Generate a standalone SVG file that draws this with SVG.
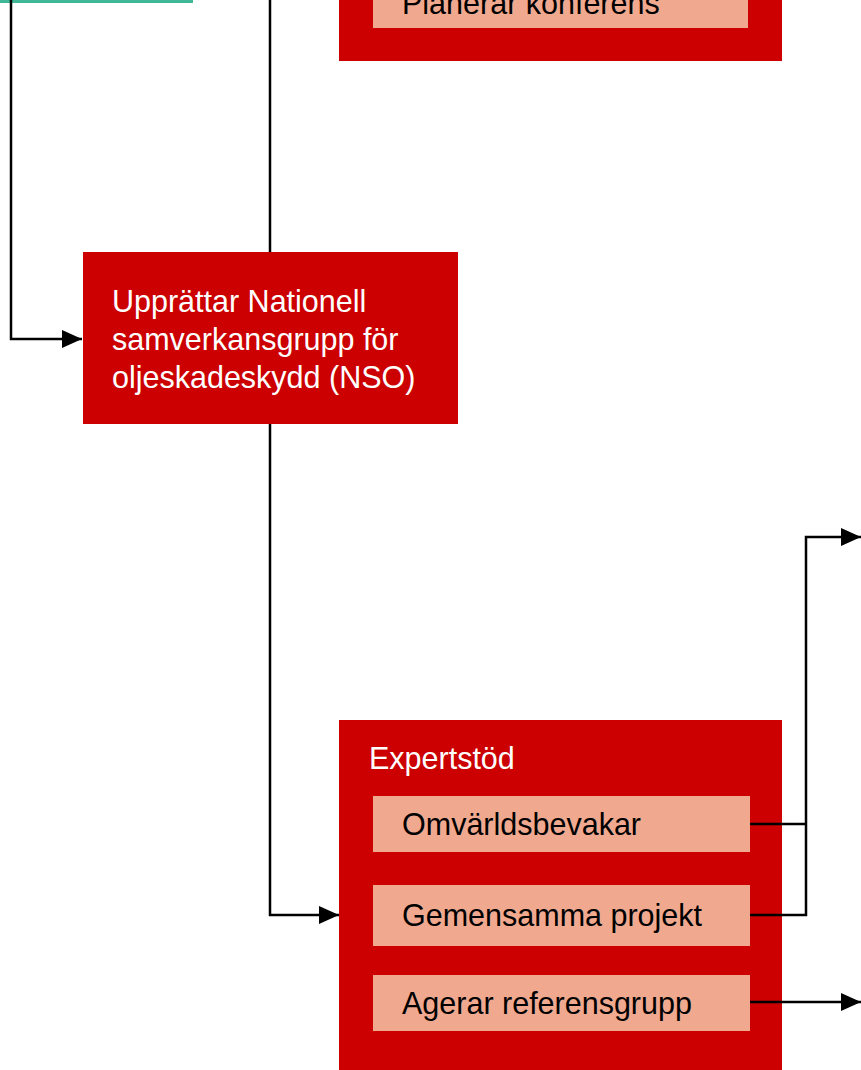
<svg xmlns="http://www.w3.org/2000/svg" width="861" height="1070" viewBox="0 0 861 1070">
<defs>
<marker id="arr" markerWidth="20" markerHeight="18" refX="20" refY="9" orient="auto" markerUnits="userSpaceOnUse" viewBox="0 0 20 18">
<path d="M0,0 L20,9 L0,18 z" fill="#000"/>
</marker>
<style>
.red{fill:#cc0000}
.sal{fill:#f0a98f}
.wt{fill:#ffffff;font-family:"Liberation Sans",Arial,sans-serif;font-size:30.5px}
.bt{fill:#000000;font-family:"Liberation Sans",Arial,sans-serif;font-size:30.5px}
.ln{fill:none;stroke:#000;stroke-width:2.5}
</style>
</defs>
<rect width="861" height="1070" fill="#ffffff"/>
<g id="teal"><rect x="0" y="-10" width="193" height="13" fill="#40b797"/></g>
<g id="konferens">
<rect class="red" x="339" y="-30" width="443" height="91"/>
<rect class="sal" x="373" y="-30" width="375" height="58"/>
<text class="bt" x="402" y="14">Planerar konferens</text>
</g>
<g id="nso">
<rect class="red" x="83" y="252" width="375" height="172"/>
<text class="wt" x="112" y="312">Upprättar Nationell</text>
<text class="wt" x="112" y="350">samverkansgrupp för</text>
<text class="wt" x="112" y="388">oljeskadeskydd (NSO)</text>
</g>
<g id="expertstod">
<rect class="red" x="339" y="720" width="443" height="360"/>
<text class="wt" x="369" y="769">Expertstöd</text>
<rect class="sal" x="373" y="796" width="377" height="56"/>
<text class="bt" x="402" y="835">Omvärldsbevakar</text>
<rect class="sal" x="373" y="885" width="377" height="61"/>
<text class="bt" x="402" y="926">Gemensamma projekt</text>
<rect class="sal" x="373" y="975" width="377" height="56"/>
<text class="bt" x="402" y="1014">Agerar referensgrupp</text>
</g>
<g id="connectors">
<path class="ln" d="M11,0 V339 H82" marker-end="url(#arr)"/>
<path class="ln" d="M270,0 V252"/>
<path class="ln" d="M270,424 V915 H339" marker-end="url(#arr)"/>
<path class="ln" d="M750,824 H806"/>
<path class="ln" d="M750,915 H806 V537 H861" marker-end="url(#arr)"/>
<path class="ln" d="M750,1002 H861" marker-end="url(#arr)"/>
</g>
</svg>
